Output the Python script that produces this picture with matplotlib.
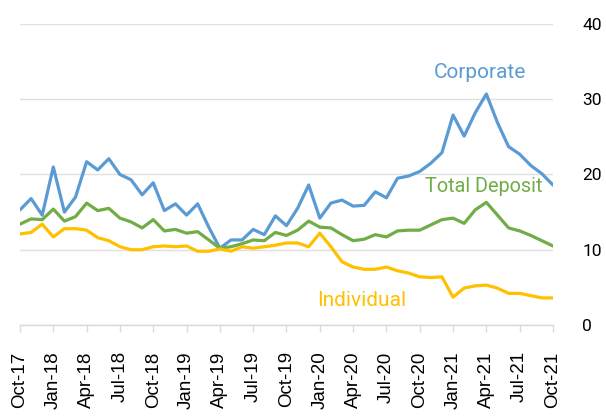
import matplotlib
matplotlib.use('Agg')
import matplotlib.pyplot as plt
import numpy as np

plt.rcParams['font.family'] = ['Roboto', 'DejaVu Sans']

# 月度数据 Oct-17 .. Oct-21
corporate = [15.3, 16.8, 14.6, 21.0, 15.0, 17.0, 21.7, 20.6, 22.1, 20.0,
             19.3, 17.3, 18.9, 15.2, 16.1, 14.6, 16.1, 13.0, 10.2, 11.3,
             11.3, 12.7, 12.0, 14.5, 13.2, 15.5, 18.6, 14.2, 16.2, 16.6,
             15.8, 15.9, 17.7, 16.9, 19.5, 19.8, 20.4, 21.5, 22.9, 27.9,
             25.1, 28.2, 30.7, 26.9, 23.7, 22.7, 21.2, 20.1, 18.6]
total_deposit = [13.4, 14.1, 14.0, 15.4, 13.8, 14.4, 16.2, 15.2, 15.5, 14.2,
                 13.7, 12.9, 14.0, 12.5, 12.7, 12.2, 12.4, 11.3, 10.2, 10.4,
                 10.8, 11.3, 11.2, 12.3, 11.9, 12.6, 13.8, 13.0, 12.9, 12.0,
                 11.2, 11.4, 12.0, 11.7, 12.5, 12.6, 12.6, 13.3, 14.0, 14.2,
                 13.5, 15.3, 16.3, 14.6, 12.9, 12.5, 11.9, 11.2, 10.5]
individual = [12.1, 12.3, 13.4, 11.7, 12.8, 12.8, 12.6, 11.6, 11.2, 10.4,
              10.0, 10.0, 10.4, 10.5, 10.4, 10.5, 9.8, 9.8, 10.1, 9.8,
              10.4, 10.2, 10.4, 10.6, 10.9, 10.9, 10.4, 12.2, 10.4, 8.4,
              7.7, 7.4, 7.4, 7.7, 7.2, 6.9, 6.4, 6.3, 6.4, 3.7,
              4.9, 5.2, 5.3, 4.9, 4.2, 4.2, 3.9, 3.6, 3.6]
tick_labels = ['Oct-17', 'Jan-18', 'Apr-18', 'Jul-18', 'Oct-18', 'Jan-19',
               'Apr-19', 'Jul-19', 'Oct-19', 'Jan-20', 'Apr-20', 'Jul-20',
               'Oct-20', 'Jan-21', 'Apr-21', 'Jul-21', 'Oct-21']

blue, green, yellow = '#5B9BD5', '#70AD47', '#FFC000'
x = np.arange(len(corporate))

fig = plt.figure(figsize=(6.06, 4.16), dpi=100)
ax = fig.add_axes([0.033, 0.2188, 0.8795, 0.7235])

for vals, c in [(corporate, blue), (total_deposit, green), (individual, yellow)]:
    ax.plot(x, vals, color=c, linewidth=2.3, solid_joinstyle='round', solid_capstyle='round')

ax.set_xlim(0, len(x) - 1)
ax.set_ylim(0, 40)
ax.set_yticks([0, 10, 20, 30, 40])
ax.yaxis.tick_right()
ax.tick_params(axis='y', length=0, pad=21, labelsize=12.5, labelcolor='black')
ax.set_xticks(x[::3])
ax.set_xticklabels(tick_labels, rotation=90, fontsize=13.5, color='black',
                   family=['Liberation Sans', 'DejaVu Sans'])
ax.tick_params(axis='x', length=5, width=1, color='#d9d9d9', pad=14)
ax.grid(axis='y', color='#e0e0e0', linewidth=1)
ax.set_axisbelow(True)
for s in ['top', 'left', 'right']:
    ax.spines[s].set_visible(False)
ax.spines['bottom'].set_color('#d9d9d9')
ax.spines['bottom'].set_linewidth(1)

ax.text(41.4, 33.5, 'Corporate', color=blue, fontsize=15, ha='center', va='center')
ax.text(41.8, 18.4, 'Total Deposit', color=green, fontsize=14.3, ha='center', va='center')
ax.text(30.8, 3.3, 'Individual', color=yellow, fontsize=15, ha='center', va='center')

plt.savefig('out.png', dpi=100)
